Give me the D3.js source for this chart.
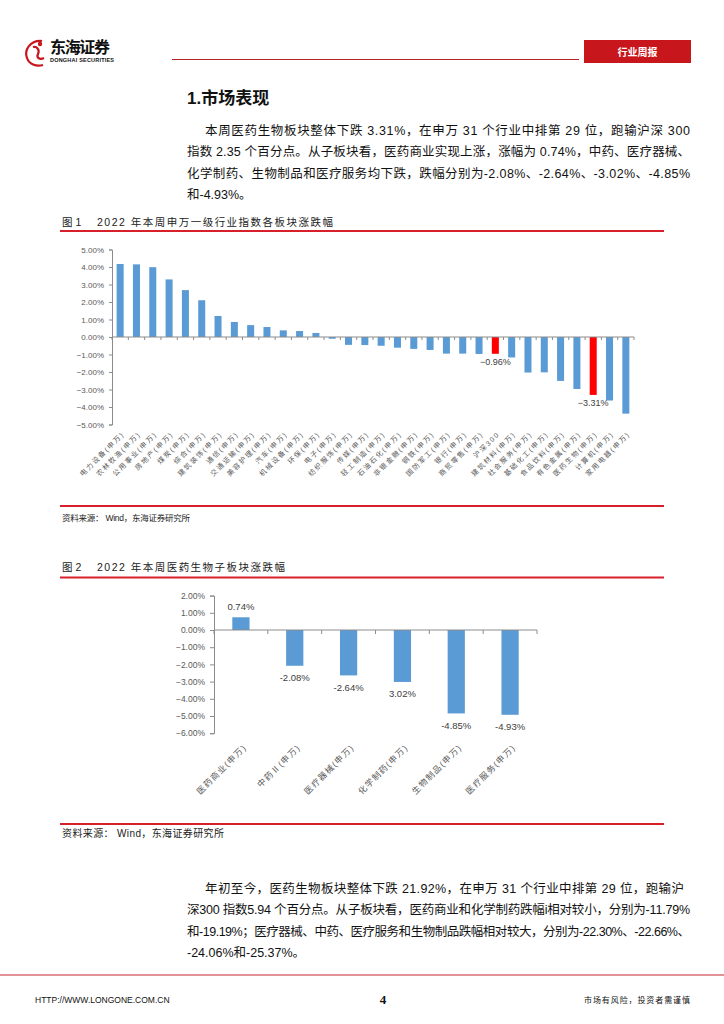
<!DOCTYPE html>
<html><head><meta charset="utf-8">
<script src="https://cdn.jsdelivr.net/npm/d3@7"></script>
<style>
html,body{margin:0;padding:0;background:#fff;}
text{font-family:"Liberation Sans","Noto Sans CJK SC",sans-serif;}
</style></head>
<body><svg id="page" width="724" height="1024"></svg>
<script>
// ---------- DATA ----------
const industries = ["电力设备(申万)","农林牧渔(申万)","公用事业(申万)","房地产(申万)","煤炭(申万)","综合(申万)","建筑装饰(申万)","通信(申万)","交通运输(申万)","美容护理(申万)","汽车(申万)","机械设备(申万)","环保(申万)","电子(申万)","纺织服饰(申万)","传媒(申万)","轻工制造(申万)","石油石化(申万)","非银金融(申万)","钢铁(申万)","国防军工(申万)","银行(申万)","商贸零售(申万)","沪深300","建筑材料(申万)","社会服务(申万)","基础化工(申万)","食品饮料(申万)","有色金属(申万)","医药生物(申万)","计算机(申万)","家用电器(申万)"];
const industryChange = [4.17,4.15,3.99,3.29,2.68,2.10,1.20,0.86,0.68,0.57,0.38,0.34,0.23,-0.10,-0.45,-0.46,-0.50,-0.61,-0.68,-0.74,-0.95,-0.95,-0.97,-0.96,-1.17,-2.03,-2.02,-2.51,-2.97,-3.31,-3.63,-4.38];
const highlighted = ["沪深300","医药生物(申万)"];
const yTicks1 = [5,4,3,2,1,0,-1,-2,-3,-4,-5];

const subSectors = ["医药商业(申万)","中药Ⅱ(申万)","医疗器械(申万)","化学制药(申万)","生物制品(申万)","医疗服务(申万)"];
const subChange = [0.74,-2.08,-2.64,-3.02,-4.85,-4.93];
const subLabels = ["0.74%","-2.08%","-2.64%","3.02%","-4.85%","-4.93%"];
const yTicks2 = [2,1,0,-1,-2,-3,-4,-5,-6];

const para1 = [
 "本周医药生物板块整体下跌 3.31%，在申万 31 个行业中排第 29 位，跑输沪深 300",
 "指数 2.35 个百分点。从子板块看，医药商业实现上涨，涨幅为 0.74%，中药、医疗器械、",
 "化学制药、生物制品和医疗服务均下跌，跌幅分别为-2.08%、-2.64%、-3.02%、-4.85%",
 "和-4.93%。"
];
const para2 = [
 "年初至今，医药生物板块整体下跌 21.92%，在申万 31 个行业中排第 29 位，跑输沪",
 "深300 指数5.94 个百分点。从子板块看，医药商业和化学制药跌幅i相对较小，分别为-11.79%",
 "和-19.19%；医疗器械、中药、医疗服务和生物制品跌幅相对较大，分别为-22.30%、-22.66%、",
 "-24.06%和-25.37%。"
];

// ---------- PAGE ----------
const svg = d3.select("#page");
svg.append("rect").attr("width",724).attr("height",1024).attr("fill","#fff");
const RED = "#d7202a", BLUE = "#5b9bd5", AX = "#8c8c8c", TXT = "#595959";

// header
const hd = svg.append("g");
hd.append("path").attr("d","M42,41 C30,40 24,50 27,58 C29,64 36,67 43,65 M33,47 C37,46 40,50 38,54 C36,58 40,60 44,58")
  .attr("fill","none").attr("stroke","#c8161d").attr("stroke-width",2.2);
hd.append("circle").attr("cx",40).attr("cy",44).attr("r",2.2).attr("fill","#c8161d");
hd.append("text").attr("x",50).attr("y",53).attr("font-size",16).attr("font-weight","bold")
  .attr("textLength",60).attr("lengthAdjust","spacing").attr("fill","#111").text("东海证券");
hd.append("text").attr("x",50).attr("y",62).attr("font-size",5.5).attr("font-weight","bold")
  .attr("textLength",64).attr("lengthAdjust","spacing").attr("fill","#111").text("DONGHAI SECURITIES");
hd.append("line").attr("x1",172).attr("x2",579).attr("y1",59.5).attr("y2",59.5).attr("stroke","#b4232a").attr("stroke-width",1);
hd.append("rect").attr("x",584).attr("y",40).attr("width",107).attr("height",23).attr("fill","#c8161d");
hd.append("text").attr("x",637.5).attr("y",55.5).attr("text-anchor","middle").attr("font-size",10).attr("font-weight","bold")
  .attr("fill","#fff").text("行业周报");

svg.append("text").attr("x",187).attr("y",104).attr("font-size",17).attr("font-weight","bold").attr("fill","#111").text("1.市场表现");

function para(lines, y0, firstX, fullW){
  lines.forEach((t,i)=>{
    const x = i===0 ? firstX : 187;
    const tx = svg.append("text").attr("x",x).attr("y",y0+i*21.3).attr("font-size",12.5).attr("fill","#111").text(t);
    if(i<lines.length-1) tx.attr("textLength",(i===0?fullW[0]:fullW[1])-x).attr("lengthAdjust","spacing");
  });
}
para(para1,135,205,[690,690]);
para(para2,893,205,[684,690]);

// ---------- CHART 1 ----------
function figTitle(y, num, label, textW, lineY){
  svg.append("text").attr("x",62).attr("y",y).attr("font-size",10.5).attr("fill","#222").text(num);
  svg.append("text").attr("x",97).attr("y",y).attr("font-size",10.5).attr("fill","#222")
    .attr("textLength",textW-35).attr("lengthAdjust","spacing").text(label);
  svg.append("line").attr("x1",60).attr("x2",664).attr("y1",lineY).attr("y2",lineY).attr("stroke",RED).attr("stroke-width",1.8);
}
figTitle(226,"图 1","2022 年本周申万一级行业指数各板块涨跌幅",271,231);

const x1 = d3.scaleBand().domain(industries).range([112,634]).padding(0);
const y1 = d3.scaleLinear().domain([-5,5]).range([424.5,249.5]);
const bw1 = x1.bandwidth()*0.43;
const c1 = svg.append("g");

const ya1 = c1.append("g").attr("transform","translate(112,0)")
  .call(d3.axisLeft(y1).tickValues(yTicks1).tickSize(3).tickPadding(5).tickFormat(d=>d3.format(".2f")(d)+"%"));
ya1.select(".domain").attr("stroke",AX);
ya1.selectAll(".tick line").attr("stroke",AX);
ya1.selectAll("text").attr("font-size",8).attr("fill",TXT).attr("font-family","Liberation Sans");

c1.selectAll("rect.bar").data(industries).join("rect").attr("class","bar")
  .attr("x",d=>x1(d)+x1.bandwidth()/2-bw1/2)
  .attr("width",bw1)
  .attr("y",(d,i)=>y1(Math.max(0,industryChange[i])))
  .attr("height",(d,i)=>Math.abs(y1(industryChange[i])-y1(0)))
  .attr("fill",d=>highlighted.includes(d)?"#ff0000":BLUE);

const y0_1 = y1(0);
c1.append("line").attr("x1",112).attr("x2",634).attr("y1",y0_1).attr("y2",y0_1).attr("stroke",AX).attr("stroke-width",1);
c1.selectAll("line.tk").data(industries.concat(["__end"])).join("line").attr("class","tk")
  .attr("x1",d=>d==="__end"?634:x1(d)).attr("x2",d=>d==="__end"?634:x1(d))
  .attr("y1",y0_1).attr("y2",y0_1+3).attr("stroke",AX);

c1.selectAll("text.vl").data(industries.filter(d=>highlighted.includes(d))).join("text").attr("class","vl")
  .attr("x",d=>x1(d)+x1.bandwidth()/2)
  .attr("y",d=>y1(industryChange[industries.indexOf(d)])+11)
  .attr("text-anchor","middle").attr("font-size",9).attr("fill","#404040")
  .text(d=>d3.format(".2f")(industryChange[industries.indexOf(d)])+"%");

c1.selectAll("text.cl").data(industries).join("text").attr("class","cl")
  .attr("transform",d=>`translate(${x1(d)+x1.bandwidth()/2+3},${433}) rotate(-45)`)
  .attr("text-anchor","end").attr("dy","0.35em").attr("font-size",7).attr("letter-spacing",1.6)
  .attr("fill",TXT).text(d=>d);

svg.append("line").attr("x1",60).attr("x2",664).attr("y1",506).attr("y2",506).attr("stroke",RED).attr("stroke-width",1.8);
svg.append("text").attr("x",62).attr("y",521).attr("font-size",8.5).attr("fill","#222")
  .attr("textLength",128).attr("lengthAdjust","spacing").text("资料来源：   Wind，东海证券研究所");

// ---------- CHART 2 ----------
figTitle(571,"图 2","2022 年本周医药生物子板块涨跌幅",223,577.5);

const x2 = d3.scaleBand().domain(subSectors).range([214,537]).padding(0);
const y2 = d3.scaleLinear().domain([-6,2]).range([733.2,595.6]);
const bw2 = x2.bandwidth()*0.32;
const c2 = svg.append("g");
const ya2 = c2.append("g").attr("transform","translate(214,0)")
  .call(d3.axisLeft(y2).tickValues(yTicks2).tickSize(4).tickPadding(5).tickFormat(d=>d3.format(".2f")(d)+"%"));
ya2.select(".domain").attr("stroke",AX);
ya2.selectAll(".tick line").attr("stroke",AX);
ya2.selectAll("text").attr("font-size",8.5).attr("fill",TXT).attr("font-family","Liberation Sans");

c2.selectAll("rect.bar").data(subSectors).join("rect").attr("class","bar")
  .attr("x",d=>x2(d)+x2.bandwidth()/2-bw2/2).attr("width",bw2)
  .attr("y",(d,i)=>y2(Math.max(0,subChange[i])))
  .attr("height",(d,i)=>Math.abs(y2(subChange[i])-y2(0)))
  .attr("fill",BLUE);
const y0_2 = y2(0);
c2.append("line").attr("x1",214).attr("x2",537).attr("y1",y0_2).attr("y2",y0_2).attr("stroke",AX).attr("stroke-width",1);
c2.selectAll("line.tk").data(subSectors.concat(["__end"])).join("line").attr("class","tk")
  .attr("x1",d=>d==="__end"?537:x2(d)).attr("x2",d=>d==="__end"?537:x2(d))
  .attr("y1",y0_2).attr("y2",y0_2+4).attr("stroke",AX);

c2.selectAll("text.vl").data(subSectors).join("text").attr("class","vl")
  .attr("x",d=>x2(d)+x2.bandwidth()/2)
  .attr("y",(d,i)=>subChange[i]>=0 ? y2(subChange[i])-7 : y2(subChange[i])+15.5)
  .attr("text-anchor","middle").attr("font-size",9.5).attr("fill","#404040")
  .text((d,i)=>subLabels[i]);

c2.selectAll("text.cl").data(subSectors).join("text").attr("class","cl")
  .attr("transform",d=>`translate(${x2(d)+x2.bandwidth()/2+4},${746}) rotate(-45)`)
  .attr("text-anchor","end").attr("dy","0.35em").attr("font-size",8.5).attr("letter-spacing",1.2)
  .attr("fill",TXT).text(d=>d);

svg.append("line").attr("x1",60).attr("x2",664).attr("y1",824).attr("y2",824).attr("stroke",RED).attr("stroke-width",1.8);
svg.append("text").attr("x",62).attr("y",837).attr("font-size",10).attr("fill","#222")
  .attr("textLength",162).attr("lengthAdjust","spacing").text("资料来源：    Wind，东海证券研究所");

// ---------- FOOTER ----------
svg.append("line").attr("x1",0).attr("x2",724).attr("y1",975).attr("y2",975).attr("stroke","#c8262d").attr("stroke-width",1.2);
svg.append("text").attr("x",35).attr("y",1003).attr("font-size",8.5).attr("fill","#111").text("HTTP://WWW.LONGONE.COM.CN");
svg.append("text").attr("x",383).attr("y",1004).attr("text-anchor","middle").attr("font-size",13).attr("font-weight","bold")
  .style("font-family","Liberation Serif").attr("fill","#111").text("4");
svg.append("text").attr("x",584).attr("y",1003).attr("font-size",8).attr("fill","#111")
  .attr("textLength",106).attr("lengthAdjust","spacing").text("市场有风险，投资者需谨慎");
</script></body></html>
